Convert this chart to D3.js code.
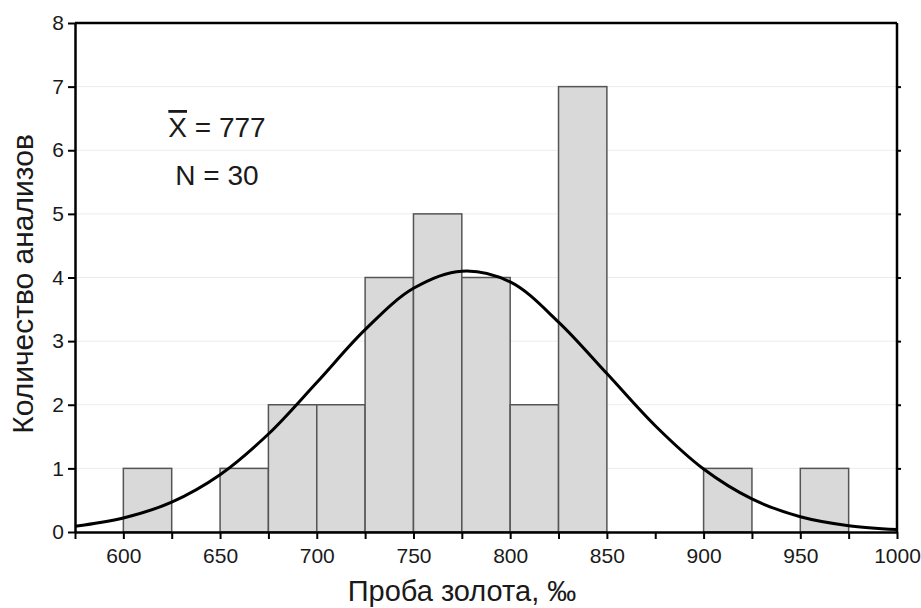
<!DOCTYPE html>
<html>
<head>
<meta charset="utf-8">
<script src="https://cdn.jsdelivr.net/npm/d3@7"></script>
<style>
  body { margin: 0; background: #fff; }
  text { font-family: "Liberation Sans", Arial, sans-serif; fill: #1a1a1a; }
</style>
</head>
<body>
<div id="chart"></div>
<script>
// Histogram bins (left edges, width 25) and counts
const binStarts = [600, 625, 650, 675, 700, 725, 750, 775, 800, 825, 850, 875, 900, 925, 950];
const binCounts = [1, 0, 1, 2, 2, 4, 5, 4, 2, 7, 0, 0, 1, 0, 1];
const binWidth = 25;

// Fitted normal curve
const curveX = [575, 600, 625, 650, 675, 700, 725, 750, 775, 800, 825, 850, 875, 900, 925, 950, 975, 1000];
const curveY = [0.09, 0.22, 0.47, 0.9, 1.54, 2.35, 3.18, 3.83, 4.1, 3.93, 3.3, 2.49, 1.67, 0.99, 0.52, 0.24, 0.1, 0.04];

const xTicks = [600, 650, 700, 750, 800, 850, 900, 950, 1000];
const xMinorTicks = d3.range(575, 1001, 25);
const yTicks = [0, 1, 2, 3, 4, 5, 6, 7, 8];

const meanLabel = "777";
const nLabel = "N = 30";

let width = 921, height = 608;
let margin = { top: 23, bottom: 76, left: 75, right: 24 };

let svg = d3.select("#chart")
  .append("svg")
  .attr("width", width)
  .attr("height", height)
  .style("background", "#fff");

let x = d3.scaleLinear()
  .domain([575, 1000])
  .range([margin.left, width - margin.right]);

let y = d3.scaleLinear()
  .domain([0, 8])
  .range([height - margin.bottom, margin.top]);

// light grid lines
svg.append("g")
  .selectAll("line")
  .data(yTicks.slice(1, -1))
  .enter()
  .append("line")
  .attr("x1", x(575))
  .attr("x2", x(1000))
  .attr("y1", d => y(d))
  .attr("y2", d => y(d))
  .attr("stroke", "#f1eaea")
  .attr("stroke-width", 1);

// bars
let bins = binStarts.map((s, i) => ({ start: s, count: binCounts[i] })).filter(d => d.count > 0);
svg.append("g")
  .selectAll("rect")
  .data(bins)
  .enter()
  .append("rect")
  .attr("x", d => x(d.start))
  .attr("y", d => y(d.count))
  .attr("width", d => x(d.start + binWidth) - x(d.start))
  .attr("height", d => y(0) - y(d.count))
  .attr("fill", "#d9d9d9")
  .attr("stroke", "#555")
  .attr("stroke-width", 1.5);

// normal curve
let line = d3.line()
  .x(d => x(d[0]))
  .y(d => y(d[1]))
  .curve(d3.curveCatmullRom);

svg.append("path")
  .datum(curveX.map((v, i) => [v, curveY[i]]))
  .attr("d", line)
  .attr("fill", "none")
  .attr("stroke", "#000")
  .attr("stroke-width", 3);

// frame: top and right
svg.append("line")
  .attr("x1", x(575)).attr("x2", x(1000))
  .attr("y1", y(8)).attr("y2", y(8))
  .attr("stroke", "#000").attr("stroke-width", 2.5);
svg.append("line")
  .attr("x1", x(1000)).attr("x2", x(1000))
  .attr("y1", y(8)).attr("y2", y(0))
  .attr("stroke", "#000").attr("stroke-width", 2.5);

// right side small ticks
svg.append("g")
  .attr("transform", `translate(${x(1000)},0)`)
  .call(d3.axisRight(y).tickValues(yTicks.slice(1, -1)).tickSize(4).tickFormat(""))
  .call(g => g.select(".domain").remove())
  .selectAll("line").attr("stroke-width", 2);

// bottom axis
let xAxis = svg.append("g")
  .attr("transform", `translate(0,${y(0)})`)
  .call(d3.axisBottom(x).tickValues(xMinorTicks).tickSize(7).tickSizeOuter(0)
    .tickFormat(d => xTicks.includes(d) ? d : ""));
xAxis.select(".domain").attr("stroke-width", 2.5);
xAxis.selectAll("line").attr("stroke-width", 2);
xAxis.selectAll("text")
  .attr("y", 16)
  .style("font-size", "21px")
  .style("font-family", "Liberation Sans, Arial, sans-serif")
  .attr("fill", "#1a1a1a");

// left axis
let yAxis = svg.append("g")
  .attr("transform", `translate(${x(575)},0)`)
  .call(d3.axisLeft(y).tickValues(yTicks).tickSize(7).tickSizeOuter(0));
yAxis.select(".domain").attr("stroke-width", 2.5);
yAxis.selectAll("line").attr("stroke-width", 2);
yAxis.selectAll("text")
  .attr("x", -11)
  .style("font-size", "21px")
  .style("font-family", "Liberation Sans, Arial, sans-serif")
  .attr("fill", "#1a1a1a");

// axis titles
svg.append("text")
  .attr("x", 462)
  .attr("y", 601)
  .attr("text-anchor", "middle")
  .style("font-size", "29px")
  .text("Проба золота, ‰");

svg.append("text")
  .attr("transform", `translate(33,284) rotate(-90)`)
  .attr("text-anchor", "middle")
  .style("font-size", "30px")
  .text("Количество анализов");

// annotations
let meanText = svg.append("text")
  .attr("x", 217)
  .attr("y", 137)
  .attr("text-anchor", "middle")
  .style("font-size", "28px");
meanText.append("tspan")
  .style("text-decoration", "overline")
  .text("X");
meanText.append("tspan")
  .text(" = " + meanLabel);

svg.append("text")
  .attr("x", 217)
  .attr("y", 185)
  .attr("text-anchor", "middle")
  .style("font-size", "28px")
  .text(nLabel);
</script>
</body>
</html>
